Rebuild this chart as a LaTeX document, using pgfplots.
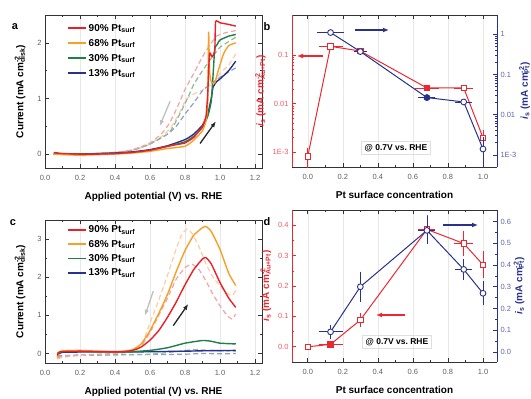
\documentclass[border=0pt]{standalone}
\usepackage{pgfplots}
\pgfplotsset{compat=1.18}
\usepackage{fontspec}
\setmainfont{Liberation Sans}
\usetikzlibrary{arrows.meta}
\definecolor{cR}{RGB}{232,32,40}
\definecolor{cO}{RGB}{246,160,40}
\definecolor{cG}{RGB}{30,128,70}
\definecolor{cB}{RGB}{40,50,140}
\definecolor{lR}{RGB}{242,165,165}
\definecolor{lO}{RGB}{250,205,165}
\definecolor{lG}{RGB}{135,188,155}
\definecolor{lB}{RGB}{145,155,205}
\definecolor{tg}{RGB}{95,95,95}
\definecolor{bR}{RGB}{235,40,50}
\definecolor{bB}{RGB}{40,50,140}
\pgfplotsset{
 base/.style={scale only axis, tick align=inside, major tick length=4pt, minor tick length=2.2pt,
   tick label style={font=\fontsize{7.5}{9}\selectfont, text=tg},
   xticklabel style={yshift=-4pt},
   label style={font=\bfseries\fontsize{10}{12}\selectfont},
   xlabel shift=5pt,
   /pgf/number format/assume math mode=true,
   xmajorgrids, major x grid style={gray!18, line width=0.5pt},
   axis line style={line width=0.8pt, black!80},
   every tick/.style={black!80, line width=0.6pt},
 },
 cvleg/.style={legend style={draw=none, fill=none, font=\bfseries\fontsize{10}{12}\selectfont, inner sep=0pt},
   legend cell align=left, ylabel shift=5pt,
   legend image code/.code={\draw[##1, line width=1.8pt] (0pt,0pt) -- (18pt,0pt);}},
 sol/.style={line width=1.4pt, no marks, smooth, tension=0.3},
 das/.style={line width=1.2pt, no marks, dash pattern=on 5pt off 3pt, smooth, tension=0.3},
 ebx/.style={only marks, mark=none, error bars/.cd, x dir=both, x explicit, error bar style={line width=0.8pt}, error mark options={mark size=3.2pt, line width=0.8pt}},
 eby/.style={only marks, mark=none, error bars/.cd, y dir=both, y explicit, error bar style={line width=0.8pt}, error mark options={mark size=3.2pt, line width=0.8pt}},
 sq/.style={line width=1pt, mark=square*, mark size=2.7pt, mark options={fill=white, solid, line width=0.9pt}},
 ci/.style={line width=1pt, mark=*, mark size=2.9pt, mark options={fill=white, solid, line width=0.9pt}},
}
\begin{document}
\begin{tikzpicture}[x=1pt,y=1pt]
\useasboundingbox (0pt,0pt) rectangle (531pt,-399pt);
% ---------------- panel a
\begin{axis}[base, cvleg, at={(45pt,-15pt)}, anchor=north west, width=217pt, height=153pt,
  xmin=0, xmax=1.24, ymin=-0.25, ymax=2.5,
  xtick={0,0.2,0.4,0.6,0.8,1.0,1.2}, xticklabels={0.0,0.2,0.4,0.6,0.8,1.0,1.2},
  minor x tick num=1, ytick={0,1,2}, minor y tick num=1,
  xlabel={Applied potential (V) vs.\ RHE},
  ylabel={Current (mA cm\rlap{\textsuperscript{-2}}\textsubscript{disk})},
  legend style={at={(0.1,0.955)}, anchor=north west, row sep=2.5pt}]
\addlegendimage{cR}\addlegendentry{90\% Pt\textsubscript{surf}}
\addlegendimage{cO}\addlegendentry{68\% Pt\textsubscript{surf}}
\addlegendimage{cG}\addlegendentry{30\% Pt\textsubscript{surf}}
\addlegendimage{cB}\addlegendentry{13\% Pt\textsubscript{surf}}
\addplot[das, lO, forget plot] coordinates {(1.09,1.8)(1.05,1.6)(1.0,1.45)(0.97,1.3)(0.9,1.15)(0.83,1.05)(0.8,0.95)(0.77,0.75)(0.72,0.48)(0.68,0.35)(0.6,0.18)(0.5,0.07)(0.4,0.03)(0.3,0.01)(0.2,0.0)(0.1,0.0)(0.05,0.0)};
\addplot[das, lB, forget plot] coordinates {(1.09,1.55)(1.0,1.38)(0.95,1.27)(0.9,1.14)(0.85,0.92)(0.8,0.72)(0.75,0.5)(0.7,0.36)(0.6,0.18)(0.5,0.07)(0.4,0.03)(0.3,0.01)(0.2,0.0)(0.1,0.0)(0.05,0.0)};
\addplot[das, lG, forget plot] coordinates {(1.09,2.1)(1.0,1.92)(0.95,1.72)(0.9,1.5)(0.85,1.25)(0.82,1.04)(0.78,0.78)(0.73,0.48)(0.7,0.36)(0.6,0.18)(0.5,0.07)(0.4,0.03)(0.3,0.01)(0.2,0.0)(0.1,0.0)(0.05,0.0)};
\addplot[das, lR, forget plot] coordinates {(1.09,2.22)(1.03,2.18)(0.98,2.12)(0.94,1.95)(0.9,1.75)(0.85,1.45)(0.8,1.16)(0.75,0.8)(0.71,0.55)(0.67,0.38)(0.6,0.2)(0.5,0.08)(0.4,0.03)(0.3,0.01)(0.2,0.0)(0.1,0.0)(0.05,0.0)};
\addplot[sol, cB, forget plot] coordinates {(0.05,0.0)(0.1,0.0)(0.2,0.0)(0.3,0.01)(0.4,0.02)(0.5,0.04)(0.6,0.08)(0.7,0.15)(0.8,0.26)(0.85,0.36)(0.9,0.52)(0.93,0.72)(0.95,1.0)(0.96,1.2)(0.98,1.3)(1.0,1.35)(1.05,1.5)(1.09,1.67)};
\addplot[sol, cG, forget plot] coordinates {(0.05,0.01)(0.1,0.0)(0.2,0.0)(0.3,0.0)(0.4,0.01)(0.5,0.03)(0.6,0.07)(0.7,0.14)(0.8,0.22)(0.85,0.32)(0.9,0.48)(0.93,0.68)(0.95,0.95)(0.96,1.4)(0.97,1.9)(0.98,1.95)(1.0,2.05)(1.05,2.12)(1.09,2.15)};
\addplot[sol, cO, forget plot, smooth=false] coordinates {(0.05,0.0)(0.1,-0.01)(0.2,-0.02)(0.3,-0.01)(0.4,0.0)(0.5,0.02)(0.6,0.05)(0.7,0.1)(0.8,0.14)(0.85,0.25)(0.9,0.42)(0.92,0.6)(0.93,0.9)(0.935,2.2)(0.94,1.5)(0.95,1.3)(0.97,1.28)(0.99,1.5)(1.02,1.8)(1.05,1.95)(1.09,2.0)};
\addplot[sol, cR, forget plot, smooth=false] coordinates {(0.05,0.03)(0.1,0.01)(0.2,0.0)(0.3,0.0)(0.4,0.01)(0.5,0.03)(0.6,0.07)(0.7,0.14)(0.75,0.17)(0.8,0.2)(0.85,0.3)(0.88,0.42)(0.9,0.5)(0.92,0.68)(0.93,1.1)(0.94,1.8)(0.955,1.75)(0.97,1.85)(0.975,2.38)(1.0,2.36)(1.05,2.33)(1.09,2.3)};
\draw[-{Latex[length=6pt,width=4.5pt]}, line width=1.3pt, black!85] (axis cs:0.886,0.19) -- (axis cs:0.977,0.59);
\draw[-{Latex[length=6pt,width=4.5pt]}, line width=1.3pt, black!25] (axis cs:0.715,0.95) -- (axis cs:0.655,0.5);
\end{axis}
\node[font=\bfseries\fontsize{11}{13}\selectfont] at (15pt,-27pt) {a};
% ---------------- panel b
\begin{axis}[base, at={(292pt,-15pt)}, anchor=north west, width=205pt, height=152pt,
  xmin=-0.09, xmax=1.08, ymode=log, ymin=5e-4, ymax=0.66, axis y line*=left,
  xtick={0,0.2,0.4,0.6,0.8,1.0}, xticklabels={0.0,0.2,0.4,0.6,0.8,1.0}, minor x tick num=1,
  ytick={0.001,0.01,0.1}, yticklabels={1E-3,0.01,0.1},
  yticklabel style={text=bR!75}, y axis line style={bR}, ytick style={bR},
  xlabel={Pt surface concentration},
  ylabel={\textit{i}\textsubscript{s} (mA cm\rlap{\textsuperscript{-2}}\textsubscript{Au+Pt})}, ylabel style={text=bR}]
\addplot[bR, ebx] coordinates {(0.13,0.15) +- (0.05,0) (0.3,0.12) +- (0.02,0) (0.68,0.021) +- (0.05,0) (0.89,0.021) +- (0.035,0)};
\addplot[bR, eby] coordinates {(0,8.3e-4) += (0,2.2e-4) -= (0,4e-4) (1.0,0.002) += (0,0.0005) -= (0,0.0003)};
\addplot[bR, sq] coordinates {(0,8.3e-4)(0.13,0.15)(0.3,0.12)(0.68,0.021)(0.89,0.021)(1.0,0.002)};
\addplot[bR, only marks, mark=square*, mark size=2.7pt] coordinates {(0.68,0.021)};
\end{axis}
\begin{axis}[base, at={(292pt,-15pt)}, anchor=north west, width=205pt, height=152pt,
  xmin=-0.09, xmax=1.08, ymode=log, ymin=5e-4, ymax=3, axis y line*=right, axis x line=none, xmajorgrids=false,
  ytick={0.001,0.01,0.1,1}, yticklabels={1E-3,0.01,0.1,1},
  yticklabel style={text=bB!75}, y axis line style={bB}, ytick style={bB}, ylabel shift=-4pt,
  ylabel={\textit{i}\textsubscript{s} (mA cm\rlap{\textsuperscript{-2}}\textsubscript{Pt})}, ylabel style={text=bB}]
\addplot[bB, ebx] coordinates {(0.13,1.1) +- (0.057,0) (0.3,0.37) +- (0.02,0) (0.68,0.0266) +- (0.03,0) (0.89,0.0207) +- (0.03,0)};
\addplot[bB, eby] coordinates {(1.0,0.0014) += (0,0.0009) -= (0,0.0009)};
\addplot[bB, ci] coordinates {(0.13,1.1)(0.3,0.37)(0.68,0.0266)(0.89,0.0207)(1.0,0.0014)};
\addplot[bB, only marks, mark=*, mark size=2.9pt] coordinates {(0.68,0.0266)};
\end{axis}
\node[font=\bfseries\fontsize{11}{13}\selectfont] at (267pt,-27pt) {b};
\node[draw=gray!25, font=\bfseries\fontsize{8.5}{10}\selectfont, inner sep=3pt] at (396pt,-148pt) {@ 0.7V vs.\ RHE};
\draw[-{Latex[length=6pt,width=5pt]}, line width=1.3pt, bR] (323pt,-56pt) -- (297pt,-56pt);
\draw[-{Latex[length=6pt,width=5pt]}, line width=1.3pt, bB] (355pt,-30pt) -- (389pt,-30pt);
% ---------------- panel c
\begin{axis}[base, cvleg, at={(45pt,-220pt)}, anchor=north west, width=217pt, height=143pt,
  xmin=0, xmax=1.24, ymin=-0.25, ymax=3.5,
  xtick={0,0.2,0.4,0.6,0.8,1.0,1.2}, xticklabels={0.0,0.2,0.4,0.6,0.8,1.0,1.2},
  minor x tick num=1, ytick={0,1,2,3}, minor y tick num=1,
  xlabel={Applied potential (V) vs.\ RHE},
  ylabel={Current (mA cm\rlap{\textsuperscript{-2}}\textsubscript{disk})},
  legend style={at={(0.1,0.975)}, anchor=north west, row sep=1.8pt}]
\addlegendimage{cR}\addlegendentry{90\% Pt\textsubscript{surf}}
\addlegendimage{cO}\addlegendentry{68\% Pt\textsubscript{surf}}
\addlegendimage{cG}\addlegendentry{30\% Pt\textsubscript{surf}}
\addlegendimage{cB}\addlegendentry{13\% Pt\textsubscript{surf}}
\addplot[das, lB, forget plot] coordinates {(0.07,-0.06)(0.2,-0.04)(0.4,-0.03)(0.6,-0.03)(0.8,-0.02)(0.9,0.0)(1.0,-0.01)(1.09,0.0)};
\addplot[das, lG, forget plot] coordinates {(0.07,-0.08)(0.2,-0.05)(0.4,-0.04)(0.6,-0.02)(0.75,0.05)(0.85,0.1)(0.95,0.08)(1.09,0.06)};
\addplot[das, lO, forget plot] coordinates {(0.07,-0.15)(0.1,-0.1)(0.2,-0.05)(0.3,-0.02)(0.4,0.0)(0.5,0.05)(0.55,0.2)(0.6,0.8)(0.65,1.4)(0.7,2.05)(0.75,2.75)(0.78,3.1)(0.81,3.26)(0.84,3.15)(0.88,2.8)(0.92,2.35)(0.96,2.0)(1.0,1.78)(1.04,1.58)(1.07,1.52)(1.09,1.65)};
\addplot[das, lR, forget plot] coordinates {(0.07,-0.12)(0.1,-0.08)(0.2,-0.04)(0.3,-0.02)(0.4,0.0)(0.5,0.05)(0.55,0.2)(0.6,0.55)(0.65,1.0)(0.7,1.45)(0.75,1.95)(0.8,2.25)(0.84,2.34)(0.88,2.2)(0.92,1.9)(0.96,1.55)(1.0,1.25)(1.04,1.0)(1.07,0.9)(1.09,1.04)};
\addplot[sol, cB, forget plot] coordinates {(0.07,-0.05)(0.1,0.03)(0.3,0.04)(0.5,0.04)(0.8,0.06)(0.9,0.07)(1.09,0.08)};
\addplot[sol, cG, forget plot] coordinates {(0.07,0.0)(0.1,0.05)(0.3,0.05)(0.5,0.05)(0.6,0.08)(0.7,0.15)(0.8,0.27)(0.9,0.34)(0.95,0.32)(1.0,0.27)(1.09,0.25)};
\addplot[sol, cO, forget plot] coordinates {(0.07,-0.12)(0.08,0.03)(0.1,0.07)(0.2,0.08)(0.3,0.06)(0.4,0.05)(0.45,0.06)(0.5,0.1)(0.55,0.25)(0.6,0.6)(0.65,1.05)(0.7,1.55)(0.75,2.15)(0.8,2.7)(0.85,3.1)(0.9,3.3)(0.92,3.33)(0.95,3.2)(1.0,2.73)(1.05,2.1)(1.09,1.78)};
\addplot[sol, cR, forget plot] coordinates {(0.07,-0.05)(0.08,0.03)(0.1,0.05)(0.2,0.06)(0.3,0.05)(0.4,0.04)(0.45,0.05)(0.5,0.08)(0.55,0.17)(0.6,0.35)(0.65,0.6)(0.7,0.95)(0.75,1.35)(0.8,1.8)(0.85,2.2)(0.9,2.48)(0.92,2.51)(0.95,2.35)(1.0,1.86)(1.05,1.45)(1.09,1.21)};
\draw[-{Latex[length=6pt,width=4.5pt]}, line width=1.3pt, black!85] (axis cs:0.733,0.73) -- (axis cs:0.819,1.3);
\draw[-{Latex[length=6pt,width=4.5pt]}, line width=1.3pt, black!25] (axis cs:0.619,1.64) -- (axis cs:0.571,0.99);
\end{axis}
\node[font=\bfseries\fontsize{11}{13}\selectfont] at (13pt,-223pt) {c};
% ---------------- panel d
\begin{axis}[base, at={(292pt,-210pt)}, anchor=north west, width=205pt, height=152pt,
  xmin=-0.09, xmax=1.08, ymin=-0.05, ymax=0.45, axis y line*=left,
  xtick={0,0.2,0.4,0.6,0.8,1.0}, xticklabels={0.0,0.2,0.4,0.6,0.8,1.0}, minor x tick num=1,
  ytick={0,0.1,0.2,0.3,0.4}, yticklabels={0.0,0.1,0.2,0.3,0.4}, minor y tick num=1,
  yticklabel style={text=bR!75}, y axis line style={bR}, ytick style={bR},
  xlabel={Pt surface concentration},
  ylabel={\textit{i}\textsubscript{s} (mA cm\rlap{\textsuperscript{-2}}\textsubscript{Au+Pt})}, ylabel style={text=bR}]
\addplot[bR, ebx] coordinates {(0.13,0.008) +- (0.05,0) (0.68,0.386) +- (0.03,0) (0.89,0.34) +- (0.035,0)};
\addplot[bR, eby] coordinates {(0.3,0.088) +- (0,0.013) (0.68,0.386) +- (0,0.036) (0.89,0.34) +- (0,0.032) (1.0,0.27) +- (0,0.034)};
\addplot[bR, sq] coordinates {(0,0.0)(0.13,0.008)(0.3,0.088)(0.68,0.386)(0.89,0.34)(1.0,0.27)};
\addplot[bR, only marks, mark=square*, mark size=2.7pt] coordinates {(0.13,0.008)};
\end{axis}
\begin{axis}[base, at={(292pt,-210pt)}, anchor=north west, width=205pt, height=152pt,
  xmin=-0.09, xmax=1.08, ymin=-0.047, ymax=0.654, axis y line*=right, axis x line=none, xmajorgrids=false,
  ytick={0,0.1,0.2,0.3,0.4,0.5,0.6}, yticklabels={0.0,0.1,0.2,0.3,0.4,0.5,0.6}, minor y tick num=1,
  yticklabel style={text=bB!75}, y axis line style={bB}, ytick style={bB}, ylabel shift=-4pt,
  ylabel={\textit{i}\textsubscript{s} (mA cm\rlap{\textsuperscript{-2}}\textsubscript{Pt})}, ylabel style={text=bB}]
\addplot[bB, ebx] coordinates {(0.13,0.092) +- (0.05,0) (0.68,0.56) +- (0.03,0) (0.89,0.38) +- (0.03,0)};
\addplot[bB, eby] coordinates {(0.13,0.092) +- (0,0.016) (0.3,0.30) +- (0,0.055) (0.68,0.56) +- (0,0.05) (0.89,0.38) +- (0,0.035) (1.0,0.27) +- (0,0.04)};
\addplot[bB, ci] coordinates {(0.13,0.092)(0.3,0.30)(0.68,0.56)(0.89,0.38)(1.0,0.27)};
\end{axis}
\node[font=\bfseries\fontsize{11}{13}\selectfont] at (267pt,-222pt) {d};
\node[draw=gray!25, font=\bfseries\fontsize{8.5}{10}\selectfont, inner sep=3pt] at (397pt,-342pt) {@ 0.7V vs.\ RHE};
\draw[-{Latex[length=6pt,width=5pt]}, line width=1.3pt, bB] (443pt,-225pt) -- (478pt,-225pt);
\draw[-{Latex[length=6pt,width=5pt]}, line width=1.3pt, bR] (405pt,-315pt) -- (376pt,-315pt);
\end{tikzpicture}
\end{document}
